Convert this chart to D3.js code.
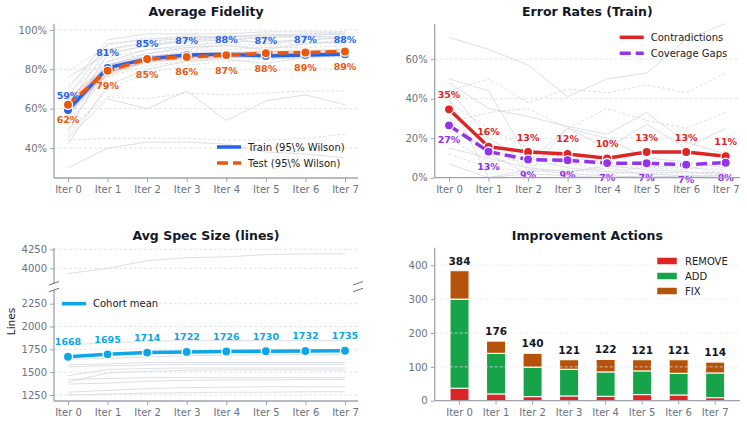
<!DOCTYPE html>
<html>
<head>
<meta charset="utf-8">
<script src="https://cdn.jsdelivr.net/npm/d3@7"></script>
<style>
  html, body { margin: 0; padding: 0; background: #fff; }
  svg { display: block; font-family: "DejaVu Sans", sans-serif; }
</style>
</head>
<body>
<svg id="chart" width="747" height="425"></svg>
<script>
// ── Data ────────────────────────────────────────────────────────────────────
const iters = ['Iter 0', 'Iter 1', 'Iter 2', 'Iter 3', 'Iter 4', 'Iter 5', 'Iter 6', 'Iter 7'];

const trainFidelity = [59.3, 80.7, 85.3, 87.2, 87.7, 86.8, 87.3, 87.6];
const testFidelity  = [62.0, 79.3, 85.2, 86.3, 87.2, 88.2, 88.5, 89.0];
const trainLo = [56, 78, 83.5, 85.5, 86, 85, 85.8, 86];
const trainHi = [63, 83, 87, 88.8, 89.2, 88.2, 88.8, 89.2];
const testLo  = [58, 76.5, 83.2, 84.5, 85.5, 86.5, 87, 87.5];
const testHi  = [66, 82, 87, 88, 88.8, 89.8, 90, 90.4];
const fidelityTicks = [40, 60, 80, 100];

const fidelityRunsSolid = [
  [30, 40, 43, 43, 42, 38, 37, 35],
  [45, 65, 60, 69, 54, 64, 67, 62],
  [55, 88, 92, 95, 96, 93, 95, 96],
  [62, 90, 94, 96, 97, 97, 98, 98],
  [70, 95, 98, 98, 98, 99, 99, 99],
  [48, 84, 90, 92, 94, 94, 95, 96],
  [58, 82, 88, 91, 92, 90, 93, 94],
  [66, 93, 95, 97, 96, 98, 97, 98],
  [52, 78, 84, 86, 88, 89, 89, 90],
  [76, 88, 92, 94, 95, 96, 97, 96],
  [42, 72, 80, 84, 85, 83, 86, 88]
];
const fidelityRunsDashed = [
  [44, 45, 45, 45, 44, 44, 45, 47],
  [50, 66, 65, 68, 67, 68, 69, 69],
  [79, 92, 96, 95, 97, 96, 98, 99],
  [68, 86, 90, 91, 93, 92, 94, 93],
  [60, 80, 86, 89, 90, 91, 91, 92],
  [56, 76, 82, 84, 86, 87, 88, 89],
  [72, 90, 93, 95, 95, 97, 96, 97],
  [46, 70, 78, 82, 84, 85, 86, 87],
  [64, 84, 88, 90, 92, 91, 93, 95]
];

const contradictions = [34.6, 15.7, 13.0, 12.0, 9.8, 13.0, 13.0, 10.9];
const coverageGaps   = [26.5, 13.2, 9.2, 8.8, 7.4, 7.3, 6.6, 7.6];
const errorTicks = [0, 20, 40, 60];

const errorRunsSolid = [
  [71, 65, 57, 41, 50, 53, 70, 78],
  [50, 44, 10, 5, 3, 2, 1, 1],
  [48, 35, 31, 26, 22, 33, 18, 12],
  [40, 0, 4, 2, 1, 0, 1, 0],
  [45, 20, 8, 25, 15, 27, 15, 25],
  [15, 10, 5, 3, 6, 4, 3, 2],
  [7, 0, 2, 1, 0, 1, 0, 0],
  [30, 12, 2, 25, 20, 10, 8, 5]
];
const errorRunsDashed = [
  [44, 50, 38, 45, 43, 47, 43, 53],
  [28, 33, 35, 25, 35, 29, 25, 33],
  [38, 25, 15, 10, 8, 6, 5, 4],
  [20, 8, 10, 12, 6, 5, 4, 8],
  [12, 5, 3, 4, 2, 3, 2, 3],
  [24, 15, 5, 3, 5, 2, 3, 1],
  [35, 16, 6, 8, 3, 5, 6, 2]
];

const specMean = [1668, 1695, 1714, 1722, 1726, 1730, 1732, 1735];
const specTicksTop = [4000, 4250];
const specTicksBottom = [1250, 1500, 1750, 2000, 2250];
const specRunsTop = [
  [3930, 4000, 4100, 4140, 4150, 4180, 4190, 4190]
];
const specRunsBottom = [
  [1800, 1820, 1840, 1845, 1845, 1845, 1845, 1845],
  [1640, 1650, 1665, 1680, 1685, 1690, 1690, 1690],
  [1580, 1590, 1605, 1605, 1605, 1605, 1605, 1605],
  [1560, 1570, 1580, 1585, 1585, 1585, 1585, 1585],
  [1460, 1530, 1540, 1545, 1545, 1545, 1545, 1545],
  [1390, 1490, 1510, 1520, 1525, 1525, 1525, 1520],
  [1420, 1430, 1440, 1440, 1440, 1440, 1440, 1440],
  [1370, 1380, 1400, 1410, 1415, 1415, 1420, 1420],
  [1280, 1300, 1320, 1330, 1335, 1340, 1340, 1340],
  [1250, 1260, 1270, 1275, 1280, 1280, 1285, 1285]
];

const actionKeys = ['REMOVE', 'ADD', 'FIX'];
const removeCounts = [37, 20, 12, 14, 13, 18, 17, 9];
const addCounts    = [263, 120, 87, 79, 72, 70, 64, 73];
const fixCounts    = [84, 36, 41, 28, 37, 33, 40, 32];
const actionTicks = [0, 100, 200, 300, 400];

// ── Styles ──────────────────────────────────────────────────────────────────
const C = {
  train: '#2563eb', test: '#ea580c',
  contra: '#dc2626', gaps: '#9333ea',
  mean: '#0ea5e9',
  REMOVE: '#dc2626', ADD: '#16a34a', FIX: '#b45309',
  title: '#111827', tick: '#6b7280', spine: '#9ca3af',
  grid: '#d1d5db', run: '#d1d5db', total: '#111827'
};

const svg = d3.select('#chart');

// ── Helpers ─────────────────────────────────────────────────────────────────

function title(text, cx, y) {
  svg.append('text')
    .attr('x', cx).attr('y', y)
    .attr('text-anchor', 'middle')
    .attr('font-size', 12.5).attr('font-weight', 'bold')
    .attr('fill', C.title)
    .text(text);
}

function yAxis(scale, ticks, fmt, x, x1, gridOnTop) {
  const g = svg.append('g').attr('transform', `translate(${x},0)`);
  g.call(d3.axisLeft(scale).tickValues(ticks).tickFormat(fmt).tickSize(4).tickPadding(3));
  g.select('.domain').remove();
  g.selectAll('.tick line').attr('stroke', C.spine).attr('stroke-width', 1);
  g.selectAll('.tick text').attr('fill', C.tick).attr('font-size', 10)
    .attr('font-family', '"DejaVu Sans", sans-serif');
  const grid = svg.append('g');
  grid.selectAll('line')
    .data(ticks)
    .join('line')
    .attr('x1', x).attr('x2', x1)
    .attr('y1', d => scale(d)).attr('y2', d => scale(d))
    .attr('stroke', gridOnTop ? '#e5e7eb' : C.grid)
    .attr('stroke-opacity', gridOnTop ? 0.9 : 0.8)
    .attr('stroke-width', 0.8)
    .attr('stroke-dasharray', '3,2');
  return grid;
}

function xAxis(scale, y, x0, x1) {
  const g = svg.append('g').attr('transform', `translate(0,${y})`);
  g.call(d3.axisBottom(scale).tickSize(4).tickPadding(4));
  g.select('.domain').remove();
  g.selectAll('.tick line').attr('stroke', C.spine).attr('stroke-width', 1);
  g.selectAll('.tick text').attr('fill', C.tick).attr('font-size', 10)
    .attr('font-family', '"DejaVu Sans", sans-serif');
  svg.append('line').attr('x1', x0).attr('x2', x1).attr('y1', y).attr('y2', y)
    .attr('stroke', C.spine).attr('stroke-width', 1.3);
}

function leftSpine(x, y0, y1) {
  svg.append('line').attr('x1', x).attr('x2', x).attr('y1', y0).attr('y2', y1)
    .attr('stroke', C.spine).attr('stroke-width', 1.3);
}

function runs(data, x, y, dashed) {
  const line = d3.line().x((d, i) => x(iters[i])).y(d => y(d));
  svg.append('g').selectAll('path')
    .data(data)
    .join('path')
    .attr('d', line)
    .attr('fill', 'none')
    .attr('stroke', C.run)
    .attr('stroke-width', 0.9)
    .attr('stroke-opacity', 0.85)
    .attr('stroke-dasharray', dashed ? '3,2' : null);
}

function series(values, x, y, color, dash) {
  const line = d3.line().x((d, i) => x(iters[i])).y(d => y(d));
  svg.append('path')
    .datum(values)
    .attr('d', line)
    .attr('fill', 'none')
    .attr('stroke', color)
    .attr('stroke-width', 3.5)
    .attr('stroke-dasharray', dash || null);
  svg.append('g').selectAll('circle')
    .data(values)
    .join('circle')
    .attr('cx', (d, i) => x(iters[i]))
    .attr('cy', d => y(d))
    .attr('r', 4.6)
    .attr('fill', color)
    .attr('stroke', '#fff')
    .attr('stroke-width', 1.3);
}

function pointLabels(values, x, y, color, dy, fmt) {
  svg.append('g').selectAll('text')
    .data(values)
    .join('text')
    .attr('x', (d, i) => x(iters[i]))
    .attr('y', d => y(d) + dy)
    .attr('text-anchor', 'middle')
    .attr('font-size', 9.5).attr('font-weight', 'bold')
    .attr('fill', color)
    .text(fmt);
}

function legendLine(x, y, color, dash, label) {
  svg.append('line').attr('x1', x).attr('x2', x + 24).attr('y1', y).attr('y2', y)
    .attr('stroke', color).attr('stroke-width', 3.5)
    .attr('stroke-dasharray', dash || null);
  svg.append('text').attr('x', x + 31).attr('y', y + 3.6)
    .attr('font-size', 10).attr('fill', '#222')
    .text(label);
}

const pct = d => d + '%';
const pctRound = d => Math.round(d) + '%';

// ── Panel 1: Average Fidelity ───────────────────────────────────────────────
{
  const L = 54, R = 358, T = 24, B = 178;
  const x = d3.scalePoint().domain(iters).range([68, 345]);
  const y = d3.scaleLinear().domain([24.8, 103]).range([B, T]);

  title('Average Fidelity', (L + R) / 2, 16);
  yAxis(y, fidelityTicks, pct, L, R);
  runs(fidelityRunsSolid, x, y, false);
  runs(fidelityRunsDashed, x, y, true);

  const band = d3.area().x((d, i) => x(iters[i]));
  svg.append('path').datum(trainHi)
    .attr('d', band.y0((d, i) => y(trainLo[i])).y1(d => y(d)))
    .attr('fill', C.train).attr('fill-opacity', 0.12);
  svg.append('path').datum(testHi)
    .attr('d', band.y0((d, i) => y(testLo[i])).y1(d => y(d)))
    .attr('fill', C.test).attr('fill-opacity', 0.14);

  series(trainFidelity, x, y, C.train);
  series(testFidelity, x, y, C.test, '11,5');
  pointLabels(trainFidelity, x, y, C.train, -11.5, pctRound);
  pointLabels(testFidelity, x, y, C.test, 18.5, pctRound);

  leftSpine(L, T, B);
  xAxis(x, B, L, R);
  legendLine(217, 147, C.train, null, 'Train (95\\% Wilson)');
  legendLine(217, 163, C.test, '11,5', 'Test (95\\% Wilson)');
}

// ── Panel 2: Error Rates (Train) ────────────────────────────────────────────
{
  const L = 434.7, R = 740, T = 24, B = 177.7;
  const x = d3.scalePoint().domain(iters).range([449, 725.7]);
  const y = d3.scaleLinear().domain([0, 77.8]).range([B, T]);

  title('Error Rates (Train)', (L + R) / 2, 16);
  yAxis(y, errorTicks.slice(1), pct, L, R);
  svg.append('g').attr('transform', `translate(${L},0)`)
    .call(d3.axisLeft(y).tickValues([0]).tickFormat(pct).tickSize(4).tickPadding(3))
    .call(g => g.select('.domain').remove())
    .call(g => g.selectAll('.tick line').attr('stroke', C.spine))
    .call(g => g.selectAll('.tick text').attr('fill', C.tick).attr('font-size', 10)
      .attr('font-family', '"DejaVu Sans", sans-serif'));
  runs(errorRunsSolid, x, y, false);
  runs(errorRunsDashed, x, y, true);

  series(contradictions, x, y, C.contra);
  series(coverageGaps, x, y, C.gaps, '11,5');
  pointLabels(contradictions, x, y, C.contra, -11.5, pctRound);
  pointLabels(coverageGaps, x, y, C.gaps, 18, pctRound);

  leftSpine(L, T, B);
  xAxis(x, B, L, R);
  legendLine(619.7, 37.3, C.contra, null, 'Contradictions');
  legendLine(619.7, 53.3, C.gaps, '11,5', 'Coverage Gaps');
}

// ── Panel 3: Avg Spec Size (broken axis) ────────────────────────────────────
{
  const L = 54, R = 358;
  const Tt = 247.7, Bt = 283.3;   // upper part
  const Tb = 290, Bb = 401;       // lower part
  const x = d3.scalePoint().domain(iters).range([68, 345]);
  const yTop = d3.scaleLinear().domain([3803, 4271]).range([Bt, Tt]);
  const yBot = d3.scaleLinear().domain([1184, 2400]).range([Bb, Tb]);

  title('Avg Spec Size (lines)', (L + R) / 2, 239.5);
  yAxis(yTop, specTicksTop, d => d, L, R);
  yAxis(yBot, specTicksBottom, d => d, L, R);
  runs(specRunsTop, x, yTop, false);
  runs(specRunsBottom, x, yBot, false);

  series(specMean, x, yBot, C.mean);
  pointLabels(specMean, x, yBot, C.mean, -11.5, d => d);

  leftSpine(L, Tt, Bt);
  leftSpine(L, Tb, Bb);
  xAxis(x, Bb, L, R);

  // break marks
  [[L, Bt], [L, Tb], [R, Bt], [R, Tb]].forEach(([cx, cy]) => {
    svg.append('line')
      .attr('x1', cx - 5).attr('y1', cy + 1.7)
      .attr('x2', cx + 5).attr('y2', cy - 1.7)
      .attr('stroke', '#6b7280').attr('stroke-width', 1);
  });

  svg.append('text')
    .attr('transform', `translate(15,${(Tb + Bb) / 2 - 24}) rotate(-90)`)
    .attr('text-anchor', 'middle')
    .attr('font-size', 10.5).attr('fill', '#222')
    .text('Lines');

  legendLine(62, 303.7, C.mean, null, 'Cohort mean');
}

// ── Panel 4: Improvement Actions ────────────────────────────────────────────
{
  const L = 434.7, R = 740, T = 247.7, B = 400.7;
  const x = d3.scaleBand().domain(iters).range([L, R]).paddingInner(0.48).paddingOuter(0.42);
  const y = d3.scaleLinear().domain([0, 452]).range([B, T]);

  const rows = iters.map((it, i) => ({
    iter: it, REMOVE: removeCounts[i], ADD: addCounts[i], FIX: fixCounts[i]
  }));
  const totals = rows.map(r => r.REMOVE + r.ADD + r.FIX);
  const stacked = d3.stack().keys(actionKeys)(rows);

  title('Improvement Actions', (L + R) / 2, 239.5);

  svg.append('g').selectAll('g')
    .data(stacked)
    .join('g')
    .attr('fill', d => C[d.key])
    .selectAll('rect')
    .data(d => d)
    .join('rect')
    .attr('x', d => x(d.data.iter))
    .attr('width', x.bandwidth())
    .attr('y', d => y(d[1]))
    .attr('height', d => y(d[0]) - y(d[1]))
    .attr('stroke', '#fff')
    .attr('stroke-width', 1);

  yAxis(y, actionTicks, d => d, L, R, true);

  svg.append('g').selectAll('text')
    .data(totals)
    .join('text')
    .attr('x', (d, i) => x(iters[i]) + x.bandwidth() / 2)
    .attr('y', d => y(d) - 6)
    .attr('text-anchor', 'middle')
    .attr('font-size', 10.5).attr('font-weight', 'bold')
    .attr('fill', C.total)
    .text(d => d);

  leftSpine(L, T, B);
  xAxis(x, B, L, R);

  const leg = svg.append('g');
  actionKeys.forEach((k, i) => {
    const cy = 261 + i * 15;
    leg.append('rect').attr('x', 657).attr('y', cy - 3.5).attr('width', 20).attr('height', 7)
      .attr('fill', C[k]).attr('stroke', '#fff').attr('stroke-width', 0.5);
    leg.append('text').attr('x', 685).attr('y', cy + 3.6)
      .attr('font-size', 10).attr('fill', '#222').text(k);
  });
}
</script>
</body>
</html>
